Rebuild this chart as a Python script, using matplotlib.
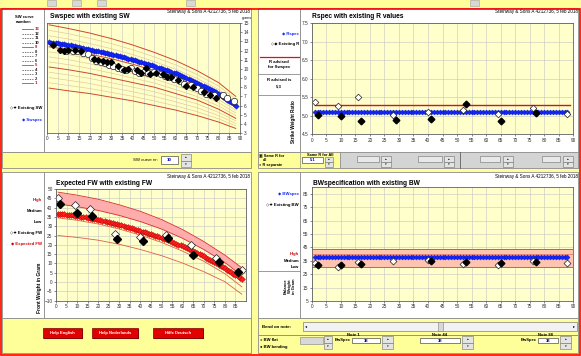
import matplotlib
matplotlib.use('Agg')
import matplotlib.pyplot as plt
from matplotlib.patches import Rectangle
from matplotlib.lines import Line2D

plt.rcParams['font.family'] = ['Liberation Sans', 'DejaVu Sans']

# ---- data ----
notes = list(range(1, 89))
curve_x = [1, 10, 20, 30, 40, 50, 60, 70, 80, 88]

# SW reference curves 1..13 (red ones are 1, 5, 9, 13)
sw_curve_1 = [7.9, 7.6, 7.3, 6.9, 6.5, 6.0, 5.5, 4.9, 4.2, 3.5]
sw_curve_2 = [8.48, 8.18, 7.85, 7.43, 7.0, 6.5, 5.95, 5.33, 4.55, 3.78]
sw_curve_3 = [9.05, 8.75, 8.4, 7.95, 7.5, 7.0, 6.4, 5.75, 4.9, 4.05]
sw_curve_4 = [9.63, 9.33, 8.95, 8.48, 8.0, 7.5, 6.85, 6.18, 5.25, 4.33]
sw_curve_5 = [10.2, 9.9, 9.5, 9.0, 8.5, 8.0, 7.3, 6.6, 5.6, 4.6]
sw_curve_6 = [10.75, 10.45, 10.03, 9.53, 9.0, 8.45, 7.73, 6.98, 5.95, 4.9]
sw_curve_7 = [11.3, 11.0, 10.55, 10.05, 9.5, 8.9, 8.15, 7.35, 6.3, 5.2]
sw_curve_8 = [11.85, 11.55, 11.08, 10.58, 10.0, 9.35, 8.58, 7.73, 6.65, 5.5]
sw_curve_9 = [12.4, 12.1, 11.6, 11.1, 10.5, 9.8, 9.0, 8.1, 7.0, 5.8]
sw_curve_10 = [13.0, 12.68, 12.18, 11.65, 11.03, 10.3, 9.48, 8.53, 7.38, 6.1]
sw_curve_11 = [13.6, 13.25, 12.75, 12.2, 11.55, 10.8, 9.95, 8.95, 7.75, 6.4]
sw_curve_12 = [14.2, 13.83, 13.33, 12.75, 12.08, 11.3, 10.43, 9.38, 8.13, 6.7]
sw_curve_13 = [14.8, 14.4, 13.9, 13.3, 12.6, 11.8, 10.9, 9.8, 8.5, 7.0]
sw_curves = [sw_curve_1, sw_curve_2, sw_curve_3, sw_curve_4, sw_curve_5,
             sw_curve_6, sw_curve_7, sw_curve_8, sw_curve_9, sw_curve_10,
             sw_curve_11, sw_curve_12, sw_curve_13]
red_curves = [1, 5, 9, 13]

sw_spec = [12.90, 12.87, 12.83, 12.80, 12.77, 12.73, 12.70, 12.67, 12.63, 12.60,
           12.55, 12.50, 12.45, 12.40, 12.35, 12.30, 12.25, 12.20, 12.15, 12.10,
           12.05, 12.00, 11.95, 11.90, 11.85, 11.80, 11.75, 11.70, 11.65, 11.60,
           11.54, 11.48, 11.42, 11.36, 11.30, 11.24, 11.18, 11.12, 11.06, 11.00,
           10.93, 10.86, 10.79, 10.72, 10.65, 10.58, 10.51, 10.44, 10.37, 10.30,
           10.22, 10.14, 10.06, 9.98, 9.90, 9.82, 9.74, 9.66, 9.58, 9.50,
           9.40, 9.30, 9.20, 9.10, 9.00, 8.90, 8.80, 8.70, 8.60, 8.50,
           8.38, 8.26, 8.14, 8.02, 7.90, 7.78, 7.66, 7.54, 7.42, 7.30,
           7.14, 6.98, 6.81, 6.65, 6.49, 6.33, 6.16, 6.00]

sw_open_x = [9, 12, 14, 17, 19, 21, 23, 25, 27, 29, 31, 33, 35, 37, 39, 41, 43,
             45, 47, 50, 53, 55, 57, 59, 62, 64, 67, 70, 72, 74, 78, 82, 84, 87]
sw_open_y = [11.9, 11.9, 11.9, 11.7, 11.6, 11.2, 10.9, 10.8, 10.6, 10.4, 10.3,
             10.1, 10.0, 9.9, 10.1, 9.8, 9.6, 9.7, 9.6, 9.7, 9.4, 9.2, 9.1, 8.9,
             8.7, 8.4, 8.2, 7.9, 7.6, 7.3, 7.2, 7.1, 6.8, 6.5]
sw_black_x = [3, 6, 8, 10, 13, 16, 22, 24, 26, 28, 30, 33, 36, 38, 42, 44, 46,
              48, 51, 54, 56, 58, 61, 65, 68, 73, 76, 79]
sw_black_y = [12.6, 12.1, 12.0, 12.1, 12.1, 12.0, 11.1, 11.0, 10.9, 10.8, 10.7,
              10.3, 9.9, 10.0, 9.9, 9.5, 10.1, 9.4, 9.6, 9.4, 9.1, 9.1, 8.8, 8.1,
              8.0, 7.5, 7.1, 6.8]

# strike weight ratio
r_spec = 5.1
r_advised = 5.3
r_open_x = [1, 9, 16, 28, 40, 52, 64, 76, 88]
r_open_y = [5.38, 5.26, 5.50, 5.02, 5.11, 5.17, 5.06, 5.20, 5.06]
r_black_x = [2, 10, 17, 29, 41, 53, 65, 77]
r_black_y = [5.02, 5.00, 4.85, 4.90, 4.91, 5.31, 4.85, 5.08]

# front weight
fw_high = [48.3, 46.7, 44.5, 41.5, 38.0, 33.6, 28.2, 21.8, 14.5, 7.7]
fw_medium = [42.0, 40.5, 38.5, 35.8, 32.5, 28.5, 23.5, 17.5, 10.5, 3.5]
fw_low = [34.5, 33.2, 31.2, 28.5, 25.2, 21.3, 16.6, 11.2, 4.5, -2.5]
fw_min = [25.0, 24.0, 22.5, 20.3, 17.5, 14.2, 10.2, 5.6, 0.2, -6.5]
fw_expected = [36.80, 36.66, 36.51, 36.37, 36.22, 36.08, 35.93, 35.79, 35.64, 35.50,
               35.30, 35.10, 34.90, 34.70, 34.50, 34.30, 34.10, 33.90, 33.70, 33.50,
               33.23, 32.96, 32.69, 32.42, 32.15, 31.88, 31.61, 31.34, 31.07, 30.80,
               30.47, 30.14, 29.81, 29.48, 29.15, 28.82, 28.49, 28.16, 27.83, 27.50,
               27.13, 26.76, 26.39, 26.02, 25.65, 25.28, 24.91, 24.54, 24.17, 23.80,
               23.34, 22.88, 22.42, 21.96, 21.50, 21.04, 20.58, 20.12, 19.66, 19.20,
               18.66, 18.12, 17.58, 17.04, 16.50, 15.96, 15.42, 14.88, 14.34, 13.80,
               13.17, 12.54, 11.91, 11.28, 10.65, 10.02, 9.39, 8.76, 8.13, 7.50,
               6.75, 6.00, 5.25, 4.50, 3.75, 3.00, 2.25, 1.50]
fw_open_x = [1, 9, 16, 28, 40, 52, 64, 76, 88]
fw_open_y = [45.0, 41.5, 39.1, 26.0, 24.0, 25.5, 20.0, 13.1, 6.4]
fw_black_x = [2, 10, 17, 29, 41, 53, 65, 77, 86]
fw_black_y = [41.8, 37.3, 35.5, 23.1, 22.2, 23.6, 14.5, 10.9, 5.5]

# balance weight
bw_spec = 38
bw_high = 44
bw_medium = 40
bw_low = 30
bw_open_x = [1, 9, 16, 28, 40, 52, 64, 76, 88]
bw_open_y = [33.5, 30.5, 33.8, 34.8, 35.3, 32.5, 31.8, 34.6, 33.0]
bw_black_x = [2, 10, 17, 41, 53, 65, 77]
bw_black_y = [31.8, 31.8, 32.5, 34.6, 34.2, 33.0, 34.2]

stamp = 'Steinway & Sons A 4212736, 5 feb 2018'

# ---- figure helpers (pixel coords, origin top-left) ----
W, H = 581, 356
YEL = '#FFFF99'
PLOT = '#FFFFCC'
EDGE = '#8C8C8C'

fig = plt.figure(figsize=(W / 100, H / 100), dpi=100)
fig.patch.set_facecolor(YEL)


def fx(x):
    return x / W


def fy(y):
    return 1 - y / H


def box(x0, y0, x1, y1, fc, ec='none', lw=0.6, z=-1):
    fig.add_artist(Rectangle((fx(x0), fy(y1)), (x1 - x0) / W, (y1 - y0) / H,
                             transform=fig.transFigure, facecolor=fc,
                             edgecolor=ec, linewidth=lw, zorder=z))


def hline(x0, x1, y, color, lw=0.8, ls='-'):
    fig.add_artist(Line2D([fx(x0), fx(x1)], [fy(y), fy(y)],
                          transform=fig.transFigure, color=color, lw=lw, ls=ls))


def label(x, y, s, size=3.4, **kw):
    kw.setdefault('va', 'center')
    fig.text(fx(x), fy(y), s, fontsize=size, **kw)


def spinner(x0, y0, x1, y1):
    ym = (y0 + y1) / 2
    box(x0, y0, x1, ym, '#E4E4E4', ec='#707070', lw=0.4)
    box(x0, ym, x1, y1, '#E4E4E4', ec='#707070', lw=0.4)
    label((x0 + x1) / 2, (y0 + ym) / 2, '▴', size=2.5, ha='center')
    label((x0 + x1) / 2, (ym + y1) / 2, '▾', size=2.5, ha='center')


def chart_axes(x0, y0, x1, y1):
    ax = fig.add_axes([fx(x0), fy(y1), (x1 - x0) / W, (y1 - y0) / H])
    ax.set_facecolor(PLOT)
    for s in ax.spines.values():
        s.set_color('#606060')
        s.set_linewidth(0.6)
    ax.tick_params(labelsize=3.4, length=1.5, width=0.4, pad=1, colors='#303030')
    ax.set_axisbelow(True)
    return ax


# ---- window background ----
for bx in [47, 72, 97, 186, 470]:
    box(bx, 0, bx + 9, 6, '#D8D8D8', ec='#A0A0A0', lw=0.4)

# panel A (top left)
box(2, 8, 44, 152, 'white', ec=EDGE)
box(44, 8, 251, 152, 'white', ec=EDGE)
box(2, 152, 251, 168, YEL, ec=EDGE)
# panel B (top right)
box(258, 8, 300, 152, 'white', ec=EDGE)
box(300, 8, 578, 152, 'white', ec=EDGE)
box(258, 152, 578, 168, YEL, ec=EDGE)
# panel C (bottom left)
box(2, 172, 44, 318, 'white', ec=EDGE)
box(44, 172, 251, 318, 'white', ec=EDGE)
box(2, 318, 251, 353, YEL, ec=EDGE)
# panel D (bottom right)
box(258, 172, 300, 318, 'white', ec=EDGE)
box(300, 172, 578, 318, 'white', ec=EDGE)
box(258, 318, 578, 335, YEL, ec=EDGE)
box(258, 335, 578, 353, YEL, ec=EDGE)

# ---- chart A: Swspec with existing SW ----
ax1 = chart_axes(47, 23, 240, 133)
for n, c in zip(range(1, 14), sw_curves):
    if n in red_curves:
        ax1.plot(curve_x, c, color='#D04828', lw=0.7)
    else:
        ax1.plot(curve_x, c, color='#E6CC8C', lw=0.5)
ax1.plot(notes, sw_spec, color='#1428FF', marker='D', ms=2.8, lw=0.8,
         mec='#0010C0', mew=0.3)
ax1.plot(sw_open_x, sw_open_y, 'o', ms=4.6, mfc='white', mec='#202020', mew=0.5)
ax1.plot(sw_black_x, sw_black_y, 'D', ms=3.0, color='black')
ax1.set_xlim(0, 90)
ax1.set_ylim(3, 15)
ax1.set_xticks(range(0, 91, 5))
ax1.set_yticks(range(3, 16))
ax1.yaxis.tick_right()
ax1.grid(axis='x', color='#C4C4C4', lw=0.4)
label(50, 16.5, 'Swspec with existing SW', size=4.8, weight='bold')
label(250, 11, stamp, size=3.3, ha='right')
label(247, 17.5, 'grams', size=2.6, ha='center')

label(24, 17, 'SW curve', size=3.0, ha='center', weight='bold')
label(24, 22, 'number:', size=3.0, ha='center', weight='bold')
for n in range(13, 0, -1):
    yy = 29 + (13 - n) * 4.53
    if n in red_curves:
        hline(22, 33, yy, '#D04828', lw=0.6)
        label(35, yy, str(n), size=3.0, color='#C00000', weight='bold')
    else:
        hline(22, 33, yy, '#404040', lw=0.5, ls=(0, (2, 1.5)))
        label(35, yy, str(n), size=3.0, color='#202020', weight='bold')
label(42, 108, '◇✦ Existing SW', size=3.1, ha='right', weight='bold')
label(42, 120, '◆ Swspec', size=3.1, ha='right', color='#1428FF', weight='bold')

label(158, 160, 'SW curve nr:', size=3.2, ha='right')
box(161, 156, 178, 164, 'white', ec='#505050', lw=0.5)
label(169.5, 160, '10', size=3.2, ha='center', color='#0000C0', weight='bold')
spinner(181, 154, 191, 167)

# ---- chart B: Rspec with existing R values ----
ax2 = chart_axes(311.7, 23.3, 573.3, 134.3)
ax2.plot([1, 89], [r_advised, r_advised], color='#E01010', lw=1.0)
ax2.plot(notes, [r_spec] * len(notes), color='#1428FF', marker='D', ms=2.6,
         lw=0.8, mec='#0010C0', mew=0.3)
ax2.plot(r_open_x, r_open_y, 'D', ms=3.4, mfc='white', mec='#202020', mew=0.5)
ax2.plot(r_black_x, r_black_y, 'D', ms=3.4, color='black')
ax2.set_xlim(0, 90)
ax2.set_ylim(4.5, 7.5)
ax2.set_xticks(range(0, 91, 5))
ax2.set_yticks([4.5, 5.0, 5.5, 6.0, 6.5, 7.0, 7.5])
ax2.set_yticklabels(['4.5', '5.0', '5.5', '6.0', '6.5', '7.0', '7.5'])
ax2.grid(color='#C4C4C4', lw=0.4)
label(312, 16.5, 'Rspec with existing R values', size=4.8, weight='bold')
label(578, 11, stamp, size=3.3, ha='right')

label(299, 34, '◆ Rspec', size=3.1, ha='right', color='#1428FF', weight='bold')
label(299, 44, '◇◆ Existing R', size=3.1, ha='right', weight='bold')
hline(260, 299, 57, '#E01010', lw=0.9)
label(279, 62, 'R advised', size=3.1, ha='center', weight='bold')
label(279, 67, 'for Swspec', size=3.1, ha='center', weight='bold')
hline(258, 300, 74, EDGE, lw=0.6)
label(279, 80, 'R advised is', size=3.1, ha='center', weight='bold')
label(279, 86, '5,3', size=3.1, ha='center', weight='bold')
hline(258, 300, 95, EDGE, lw=0.6)
label(293, 122, 'Strike Weight Ratio', size=3.3, ha='center', rotation=90,
      weight='bold')

label(259, 155, '▣ Same R for', size=2.8, weight='bold')
label(263, 160, 'all', size=2.8, weight='bold')
label(259, 165, '○ R separate', size=2.8, weight='bold')
box(300, 152, 340, 168, YEL, ec=EDGE, lw=0.5)
label(320, 154.5, 'Same R for All', size=2.8, ha='center', weight='bold')
box(302, 157, 323, 163, 'white', ec='#505050', lw=0.5)
label(312.5, 160, '5.1', size=3.0, ha='center', color='#0000C0', weight='bold')
spinner(325, 157, 333, 167)
box(340, 152, 578, 168, '#D4D4D4', ec=EDGE, lw=0.5)
for bx0, bx1, sp in [(357, 379, 381), (418, 442, 444), (480, 500, 503), (542, 560, 563)]:
    box(bx0, 156, bx1, 162, '#E8E8E8', ec='#707070', lw=0.4)
    spinner(sp, 156, sp + 10, 167)
fig.add_artist(Line2D([fx(460), fx(460)], [fy(152), fy(168)],
                      transform=fig.transFigure, color='#606060', lw=0.6))

# ---- chart C: Expected FW with existing FW ----
ax3 = chart_axes(56, 189, 246, 300.7)
ax3.fill_between(curve_x, fw_medium, fw_high, color='#FFACAC', lw=0)
ax3.plot(curve_x, fw_high, color='#D83030', lw=0.6)
ax3.plot(curve_x, fw_medium, color='#D83030', lw=0.6)
ax3.plot(curve_x, fw_low, color='#E06040', lw=0.6)
ax3.plot(curve_x, fw_min, color='#E06040', lw=0.6)
ax3.plot(notes, fw_expected, color='#FF2020', marker='D', ms=3.0, lw=1.0,
         mec='#B00000', mew=0.3)
ax3.plot(fw_open_x, fw_open_y, 'D', ms=3.8, mfc='white', mec='#202020', mew=0.5)
ax3.plot(fw_black_x, fw_black_y, 'D', ms=3.6, color='black')
ax3.set_xlim(0, 90)
ax3.set_ylim(-10, 50)
ax3.set_xticks(range(0, 86, 5))
ax3.set_yticks(range(-10, 51, 5))
ax3.grid(color='#C4C4C4', lw=0.4)
label(56, 183.5, 'Expected FW with existing FW', size=4.8, weight='bold')
label(250, 176.5, stamp, size=3.3, ha='right')

label(42, 200, 'High', size=3.1, ha='right', color='#C00000', weight='bold')
label(42, 211, 'Medium', size=3.1, ha='right', weight='bold')
label(42, 222, 'Low', size=3.1, ha='right', weight='bold')
label(42, 233, '◇✦ Existing FW', size=3.1, ha='right', weight='bold')
label(42, 244, '◆ Expected FW', size=3.1, ha='right', color='#D00000',
      weight='bold')
label(40, 288, 'Front Weight in Gram', size=3.5, ha='center', rotation=90,
      weight='bold')

for bx0, bx1, name in [(43, 82, 'Help English'), (92, 138, 'Help Nederlands'),
                       (153, 203, 'Hilfe Deutsch')]:
    box(bx0 + 1, 329, bx1 + 1, 339, '#600000')
    box(bx0, 328, bx1, 338, '#E00000', ec='#800000', lw=0.5)
    label((bx0 + bx1) / 2, 333, name, size=3.0, ha='center', color='white',
          weight='bold')

# ---- chart D: BWspecification with existing BW ----
ax4 = chart_axes(311.7, 187, 573.3, 301)
ax4.fill_between([0, 90], bw_low, bw_high, color='#FFC4B0', lw=0)
ax4.axhline(bw_high, color='#D04040', lw=0.6)
ax4.axhline(bw_medium, color='#E07060', lw=0.5)
ax4.axhline(bw_low, color='#D04040', lw=0.6)
ax4.plot(notes, [bw_spec] * len(notes), color='#1428FF', marker='D', ms=2.6,
         lw=0.8, mec='#0010C0', mew=0.3)
ax4.plot(bw_open_x, bw_open_y, 'D', ms=3.5, mfc='white', mec='#202020', mew=0.5)
ax4.plot(bw_black_x, bw_black_y, 'D', ms=3.4, color='black')
ax4.set_xlim(0, 90)
ax4.set_ylim(5, 90)
ax4.set_xticks(range(0, 91, 5))
ax4.set_yticks(range(5, 86, 10))
ax4.grid(color='#C4C4C4', lw=0.4)
label(313, 183.5, 'BWspecification with existing BW', size=4.8, weight='bold')
label(578, 176.5, stamp, size=3.3, ha='right')

label(299, 194, '◆ BWspec', size=3.1, ha='right', color='#1428FF', weight='bold')
label(299, 205, '◇✦ Existing BW', size=3.1, ha='right', weight='bold')
label(299, 254, 'High', size=3.1, ha='right', color='#C00000', weight='bold')
label(299, 261, 'Medium', size=3.1, ha='right', weight='bold')
label(299, 267, 'Low', size=3.1, ha='right', weight='bold')
hline(258, 300, 270.5, EDGE, lw=0.6)
label(290, 286, 'Balance\nWeight\nin Gram', size=3.0, ha='center', rotation=90,
      weight='bold', linespacing=1.0)

label(262, 326.5, 'Bend on note:', size=3.2, weight='bold')
box(303, 322, 577, 331, '#F2F2F2', ec='#808080', lw=0.5)
label(306, 326.5, '◂', size=3.0, ha='center')
label(574, 326.5, '▸', size=3.0, ha='center')
box(438, 322, 443, 331, '#D8D8D8', ec='#808080', lw=0.4)

label(260, 340, '○ BW flat', size=3.0, weight='bold')
label(260, 347, '● BW bending', size=3.0, weight='bold')
box(300, 337, 323, 344, '#D8D8D8', ec='#808080', lw=0.4)
spinner(324, 336, 332, 349)
label(353, 335, 'Note 1', size=3.0, ha='center', weight='bold')
label(351, 340, 'BwSpec', size=3.0, ha='right', weight='bold')
box(352, 338, 380, 343, 'white', ec='#505050', lw=0.5)
label(366, 340.5, '38', size=3.0, ha='center', color='#0000C0', weight='bold')
spinner(382, 336, 393, 349)
label(440, 335, 'Note 44', size=3.0, ha='center', weight='bold')
box(420, 338, 460, 343, 'white', ec='#505050', lw=0.5)
label(440, 340.5, '38', size=3.0, ha='center', color='#0000C0', weight='bold')
spinner(462, 336, 473, 349)
label(545, 335, 'Note 88', size=3.0, ha='center', weight='bold')
label(537, 340, 'BwSpec', size=3.0, ha='right', weight='bold')
box(538, 338, 558, 343, 'white', ec='#505050', lw=0.5)
label(548, 340.5, '38', size=3.0, ha='center', color='#0000C0', weight='bold')
spinner(560, 336, 571, 349)

# red window frame
fig.add_artist(Rectangle((fx(0.7), fy(355)), 579.3 / W, 346.5 / H,
                         transform=fig.transFigure, facecolor='none',
                         edgecolor='#FF0000', linewidth=1.2, zorder=5))

fig.savefig('out.png', dpi=100)
